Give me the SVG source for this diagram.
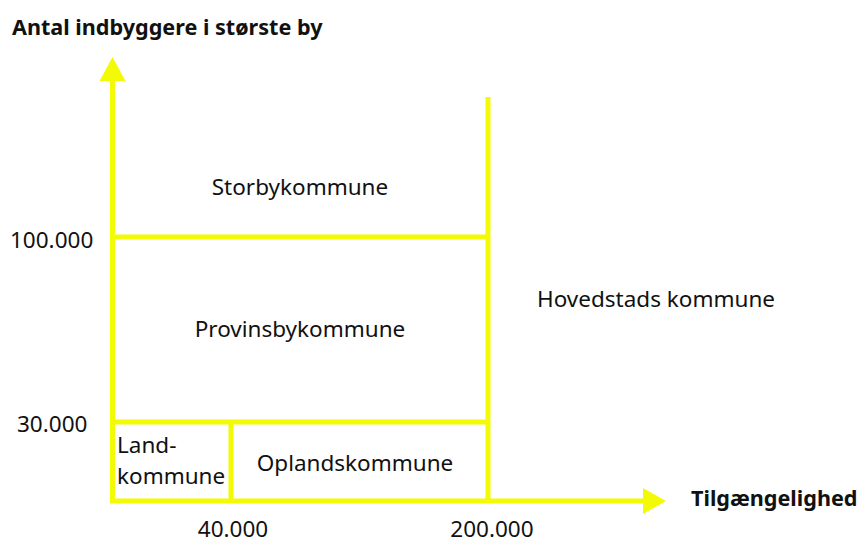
<svg xmlns="http://www.w3.org/2000/svg" width="861" height="543" viewBox="0 0 861 543">
<style>
.ln{stroke:#f2fa05;stroke-width:5;fill:none}
.ah{fill:#f2fa05}
text{font-family:"Noto Sans","Liberation Sans",sans-serif;font-size:22.5px;fill:#111}
.b{font-weight:bold;font-size:21.6px}
.m{text-anchor:middle}
</style>
<rect width="861" height="543" fill="#fff"/>
<g id="connectors">
<line class="ln" x1="112.5" y1="503" x2="112.5" y2="78"/>
<polygon class="ah" points="112.5,57 99.5,81 125.5,81"/>
<line class="ln" x1="110" y1="501" x2="646" y2="501"/>
<polygon class="ah" points="666,501 643,488 643,514"/>
<line class="ln" x1="488" y1="97" x2="488" y2="503"/>
<line class="ln" x1="112.5" y1="237" x2="488" y2="237"/>
<line class="ln" x1="112.5" y1="422" x2="488" y2="422"/>
<line class="ln" x1="231" y1="422" x2="231" y2="501"/>
</g>
<g id="axis-y-label"><text class="b" x="12" y="35">Antal indbyggere i største by</text></g>
<g id="axis-x-label"><text class="b" x="691" y="506">Tilgængelighed</text></g>
<g id="tick-100000"><text x="10" y="248">100.000</text></g>
<g id="tick-30000"><text x="17" y="432">30.000</text></g>
<g id="tick-40000"><text class="m" x="233" y="537">40.000</text></g>
<g id="tick-200000"><text class="m" x="492" y="537">200.000</text></g>
<g id="storby"><text class="m" x="300" y="195">Storbykommune</text></g>
<g id="provinsby"><text class="m" x="300" y="337">Provinsbykommune</text></g>
<g id="hovedstad"><text x="537" y="307">Hovedstads kommune</text></g>
<g id="land"><text x="117" y="453">Land-</text><text x="117" y="484">kommune</text></g>
<g id="opland"><text class="m" x="355" y="471">Oplandskommune</text></g>
</svg>
